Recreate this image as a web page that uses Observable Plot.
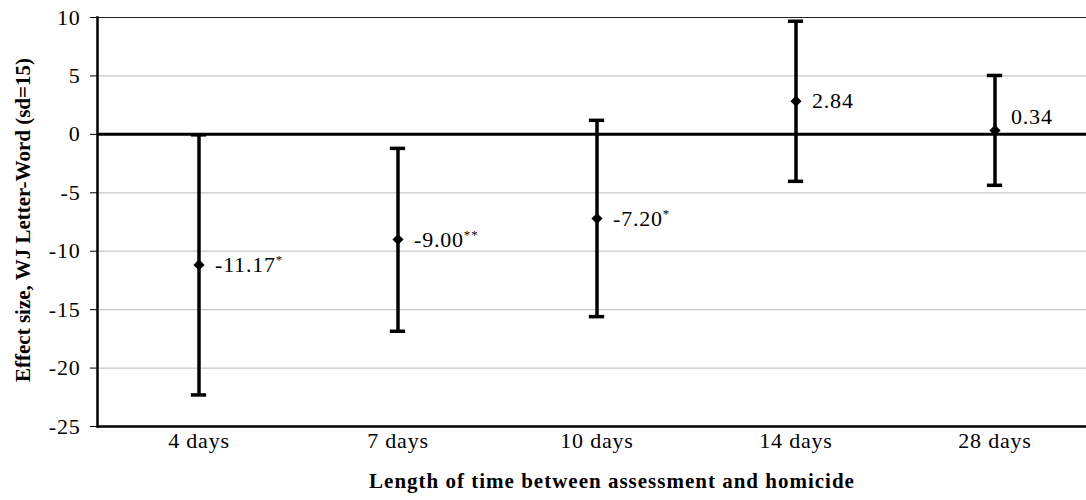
<!DOCTYPE html>
<html>
<head>
<meta charset="utf-8">
<script src="https://cdn.jsdelivr.net/npm/d3@7"></script>
<script src="https://cdn.jsdelivr.net/npm/@observablehq/plot@0.6"></script>
<style>
  html, body { margin: 0; padding: 0; background: white; overflow: hidden; }
  #chart svg { display: block; }
</style>
</head>
<body>
<div id="chart"></div>
<script>
const categories = ["4 days", "7 days", "10 days", "14 days", "28 days"];
const effect = [-11.17, -9.00, -7.20, 2.84, 0.34];
const lower = [-22.30, -16.85, -15.60, -4.02, -4.36];
const upper = [-0.04, -1.20, 1.20, 9.68, 5.04];
const stars = ["*", "**", "*", "", ""];
const yTicks = [10, 5, 0, -5, -10, -15, -20, -25];
const yLabel = "Effect size, WJ Letter-Word (sd=15)";
const xLabel = "Length of time between assessment and homicide";

const data = categories.map((c, i) => ({
  cat: c, effect: effect[i], lo: lower[i], hi: upper[i],
  label: effect[i].toFixed(2) + stars[i]
}));

const W = 1086, H = 500, mL = 97, mT = 17, mB = 74;
const xRange = [97.5, 1096];
const band = (xRange[1] - xRange[0]) / categories.length;
const capInset = (band - 16) / 2;
const serif = "'Liberation Serif', 'Times New Roman', serif";
const fs = 22;

const chart = Plot.plot({
  width: W, height: H,
  marginLeft: mL, marginRight: 0, marginTop: mT, marginBottom: mB,
  style: { fontFamily: serif, fontSize: fs + "px", color: "black", background: "white" },
  x: { type: "band", domain: categories, range: xRange, padding: 0, label: null },
  y: { domain: [-25, 10], label: null },
  marks: [
    Plot.ruleY(yTicks.filter(t => t !== 0 && t !== 10 && t !== -25), { stroke: "#c6c6c6", strokeWidth: 1.2 }),
    Plot.ruleY([10], { stroke: "#222", strokeWidth: 1.2 }),
    Plot.axisY({ ticks: yTicks, tickSize: 7, tickPadding: 10, tickFormat: d => String(d), label: null, fontSize: fs, stroke: "black", className: "y-ticks" }),
    Plot.axisX({ tickSize: 0, tickPadding: 6, label: null, fontSize: fs, className: "x-ticks" }),
    Plot.ruleY([-25], { stroke: "black", strokeWidth: 2.5 }),
    Plot.frame({ anchor: "left", stroke: "black", strokeWidth: 2.5 }),
    Plot.ruleY([0], { stroke: "black", strokeWidth: 3 }),
    Plot.ruleX(data, { x: "cat", y1: "lo", y2: "hi", stroke: "black", strokeWidth: 3.5 }),
    Plot.tickY(data, { x: "cat", y: "lo", stroke: "black", strokeWidth: 3.5, insetLeft: capInset, insetRight: capInset }),
    Plot.tickY(data, { x: "cat", y: "hi", stroke: "black", strokeWidth: 3.5, insetLeft: capInset, insetRight: capInset }),
    Plot.dot(data, { x: "cat", y: "effect", symbol: "diamond2", r: 5, fill: "black", stroke: "none" }),
    Plot.text(data.filter(d => d.cat !== "28 days"), { x: "cat", y: "effect", text: "label", textAnchor: "start", dx: 16, fontSize: fs, className: "pt-label" }),
    Plot.text(data.filter(d => d.cat === "28 days"), { x: "cat", y: "effect", text: "label", textAnchor: "start", dx: 16, dy: -13, fontSize: fs, className: "pt-label" }),
    Plot.text([yLabel], { frameAnchor: "left", textAnchor: "middle", rotate: -90, dx: -74, dy: -2, fontWeight: "bold", fontSize: 21, className: "y-title" }),
    Plot.text([xLabel], { frameAnchor: "bottom", textAnchor: "middle", dy: 61, dx: 20, fontWeight: "bold", fontSize: 21, className: "x-title" })
  ]
});

// render significance stars as superscripts
d3.select(chart).selectAll(".pt-label text").each(function () {
  const t = this.textContent;
  const m = t.match(/^([^*]*)(\*+)$/);
  if (m) {
    const sel = d3.select(this);
    sel.text(m[1]);
    sel.append("tspan").attr("font-size", "13px").attr("dy", "-0.6em").text(m[2]);
  }
});
d3.select(chart).selectAll(".pt-label text, .x-ticks text, .y-ticks text").attr("letter-spacing", "0.8px");
d3.select(chart).selectAll(".x-title text").attr("letter-spacing", "1px");

document.getElementById("chart").appendChild(chart);
</script>
</body>
</html>
